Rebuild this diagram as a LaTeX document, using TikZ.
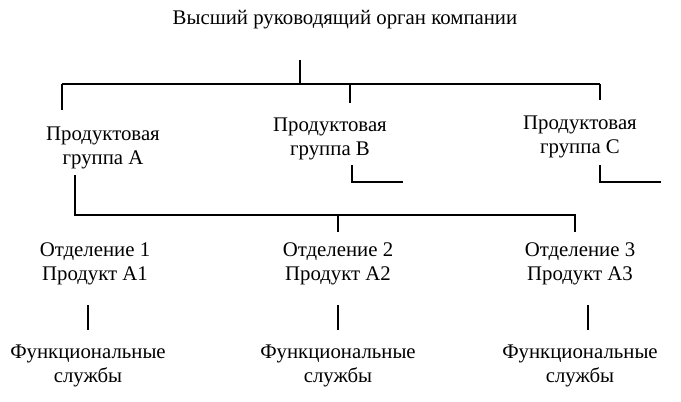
\documentclass[tikz,border=0pt]{standalone}
\usepackage{fontspec}
\setmainfont{Liberation Serif}
\begin{document}
\begin{tikzpicture}[x=1pt,y=-1pt,line width=1.1pt,
  lbl/.style={align=center,inner sep=0pt,font=\fontsize{20.8}{24}\selectfont}]
\useasboundingbox (0,0) rectangle (681,402);
\node[lbl] (top) at (345,20) {Высший руководящий орган компании};
\node[lbl] (pa) at (103,148) {Продуктовая\\группа А};
\node[lbl] (pb) at (330,139) {Продуктовая\\группа В};
\node[lbl] (pc) at (580,137) {Продуктовая\\группа С};
\node[lbl] (d1) at (95,264) {Отделение 1\\Продукт А1};
\node[lbl] (d2) at (338,264) {Отделение 2\\Продукт А2};
\node[lbl] (d3) at (580,264) {Отделение 3\\Продукт А3};
\node[lbl] (f1) at (88,366) {Функциональные\\службы};
\node[lbl] (f2) at (338,366) {Функциональные\\службы};
\node[lbl] (f3) at (580,366) {Функциональные\\службы};
\coordinate (bus1) at (300,84);
\draw (300,60) -- (bus1);
\draw (62,84) -- (600,84);
\draw (62,84) -- (62,110);
\draw (350,84) -- (350,103);
\draw (600,84) -- (600,100);
\draw (352,165) -- (352,182) -- (403,182);
\draw (600,165) -- (600,182) -- (661,182);
\draw (75,175) -- (75,215) -- (575,215) -- (575,232);
\draw (338,215) -- (338,232);
\draw (88,305) -- (88,330);
\draw (338,305) -- (338,330);
\draw (588,305) -- (588,330);
\end{tikzpicture}
\end{document}
